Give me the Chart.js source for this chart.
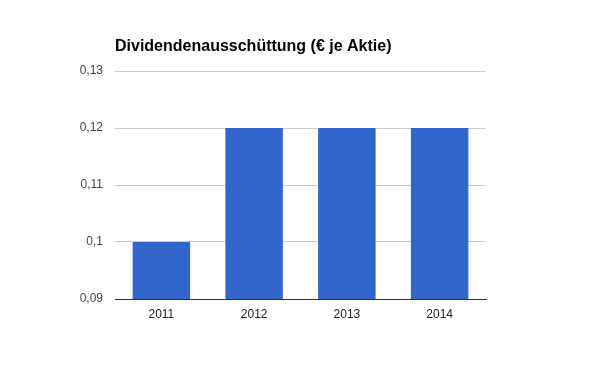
<!DOCTYPE html>
<html>
<head>
<meta charset="utf-8">
<script src="https://cdn.jsdelivr.net/npm/chart.js@4/dist/chart.umd.min.js"></script>
<style>
  html, body { margin: 0; padding: 0; background: #fff; }
  #wrap { width: 600px; height: 371px; }
</style>
</head>
<body>
<div id="wrap"><canvas id="myChart" width="600" height="371"></canvas></div>
<script>
const years = ["2011", "2012", "2013", "2014"];
const dividend = [0.10, 0.12, 0.12, 0.12];
const yTicks = [0.09, 0.10, 0.11, 0.12, 0.13];
const titleText = "Dividendenausschüttung (€ je Aktie)";

// title drawn at the left edge of the plot, like the original
const titlePlugin = {
    id: 'leftTitle',
    afterDraw(chart) {
        const ctx = chart.ctx;
        ctx.save();
        ctx.font = "bold 16px 'Liberation Sans', Arial, sans-serif";
        ctx.fillStyle = "#000";
        ctx.textBaseline = "alphabetic";
        ctx.fillText(titleText, chart.chartArea.left, 51);
        ctx.restore();
    }
};

const ctx = document.getElementById("myChart").getContext("2d");
new Chart(ctx, {
    type: "bar",
    data: {
        labels: years,
        datasets: [{
            label: titleText,
            data: dividend,
            backgroundColor: "#3366cc",
            barPercentage: 0.62,
            categoryPercentage: 1
        }]
    },
    plugins: [titlePlugin],
    options: {
        responsive: false,
        animation: false,
        layout: { padding: { top: 71, right: 114, bottom: 0, left: 0 } },
        plugins: {
            legend: { display: false },
            title: { display: false },
            tooltip: { enabled: false }
        },
        scales: {
            x: {
                grid: { display: false, drawTicks: false },
                border: { color: "#333", width: 1 },
                ticks: {
                    color: "#222",
                    font: { family: "'Liberation Sans', Arial, sans-serif", size: 12 },
                    padding: 8,
                    maxRotation: 0
                },
                afterFit(scale) { scale.height = 72; }
            },
            y: {
                min: 0.09,
                max: 0.13,
                afterBuildTicks(scale) { scale.ticks = yTicks.map(v => ({ value: v })); },
                grid: { color: "#cccccc", drawTicks: false },
                border: { display: false },
                ticks: {
                    color: "#444",
                    font: { family: "'Liberation Sans', Arial, sans-serif", size: 12 },
                    padding: 12,
                    callback: v => String(Math.round(v * 100) / 100).replace('.', ',')
                },
                afterFit(scale) { scale.width = 115; }
            }
        }
    }
});
</script>
</body>
</html>
